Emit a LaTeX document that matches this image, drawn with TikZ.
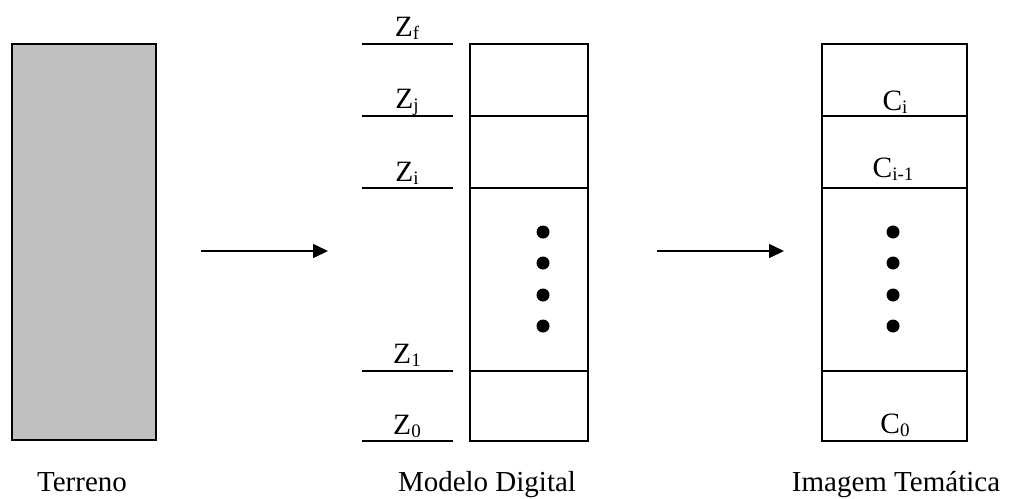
\documentclass[tikz,border=0pt]{standalone}
\usepackage{fontspec}
\setmainfont{Liberation Serif}
\usetikzlibrary{arrows.meta}
\newcommand\mysub[1]{\raisebox{-3pt}{\fontsize{19}{20}\selectfont #1}}
\begin{document}
\begin{tikzpicture}[x=1pt,y=-1pt,
  ruleline/.style={line width=1.4pt},
  lbl/.style={anchor=base,inner sep=0pt,font=\fontsize{29.5}{34}\selectfont},
  captxt/.style={anchor=base,inner sep=0pt,font=\fontsize{29}{33}\selectfont},
  arr/.style={line width=1.4pt,-{Triangle[length=15pt,width=14pt]}},
  dotnode/.style={circle,fill=black,minimum size=13pt,inner sep=0pt}]
\useasboundingbox (0,0) rectangle (1011,498);
% Terreno
\node[draw,line width=1.4pt,fill={rgb,255:red,192;green,192;blue,192},minimum width=144pt,minimum height=396pt,inner sep=0pt] (terr) at (84,242) {};
\node[captxt] (terrl) at (82,491) {Terreno};
% Modelo digital
\node[draw,line width=1.4pt,minimum width=118pt,minimum height=397pt,inner sep=0pt] (md) at (529,242.5) {};
\coordinate (m1) at (470,116); \coordinate (m1r) at (588,116);
\coordinate (m2) at (470,188); \coordinate (m2r) at (588,188);
\coordinate (m3) at (470,371); \coordinate (m3r) at (588,371);
\draw[ruleline] (m1) -- (m1r) (m2) -- (m2r) (m3) -- (m3r);
\foreach \y/\n in {44/f,116/j,188/i,371/a,441/b}{
  \coordinate (zl\n) at (362,\y); \coordinate (zr\n) at (453,\y);
  \draw[ruleline] (zl\n) -- (zr\n);
}
\node[lbl] (zf) at (407,36) {Z\mysub{f}};
\node[lbl] (zj) at (407,108) {Z\mysub{j}};
\node[lbl] (zi) at (407,181) {Z\mysub{i}};
\node[lbl] (z1) at (407,363) {Z\mysub{1}};
\node[lbl] (z0) at (407,434) {Z\mysub{0}};
\foreach \y [count=\k] in {232,263,295,326}{ \node[dotnode] (md\k) at (543,\y) {}; }
\node[captxt] (mdl) at (487,491) {Modelo Digital};
% Imagem tematica
\node[draw,line width=1.4pt,minimum width=145pt,minimum height=397pt,inner sep=0pt] (it) at (894.5,242.5) {};
\coordinate (i1) at (822,116); \coordinate (i1r) at (967,116);
\coordinate (i2) at (822,188); \coordinate (i2r) at (967,188);
\coordinate (i3) at (822,371); \coordinate (i3r) at (967,371);
\draw[ruleline] (i1) -- (i1r) (i2) -- (i2r) (i3) -- (i3r);
\node[lbl] (ci) at (895,110) {C\mysub{i}};
\node[lbl] (cim) at (893,177) {C\mysub{i-1}};
\node[lbl] (c0) at (895,433) {C\mysub{0}};
\foreach \y [count=\k] in {232,263,295,326}{ \node[dotnode] (it\k) at (893,\y) {}; }
\node[captxt] (itl) at (896,491) {Imagem Temática};
% arrows
\coordinate (a1s) at (201,251); \coordinate (a1e) at (328,251);
\coordinate (a2s) at (657,251); \coordinate (a2e) at (784,251);
\draw[arr] (a1s) -- (a1e);
\draw[arr] (a2s) -- (a2e);
\end{tikzpicture}
\end{document}
